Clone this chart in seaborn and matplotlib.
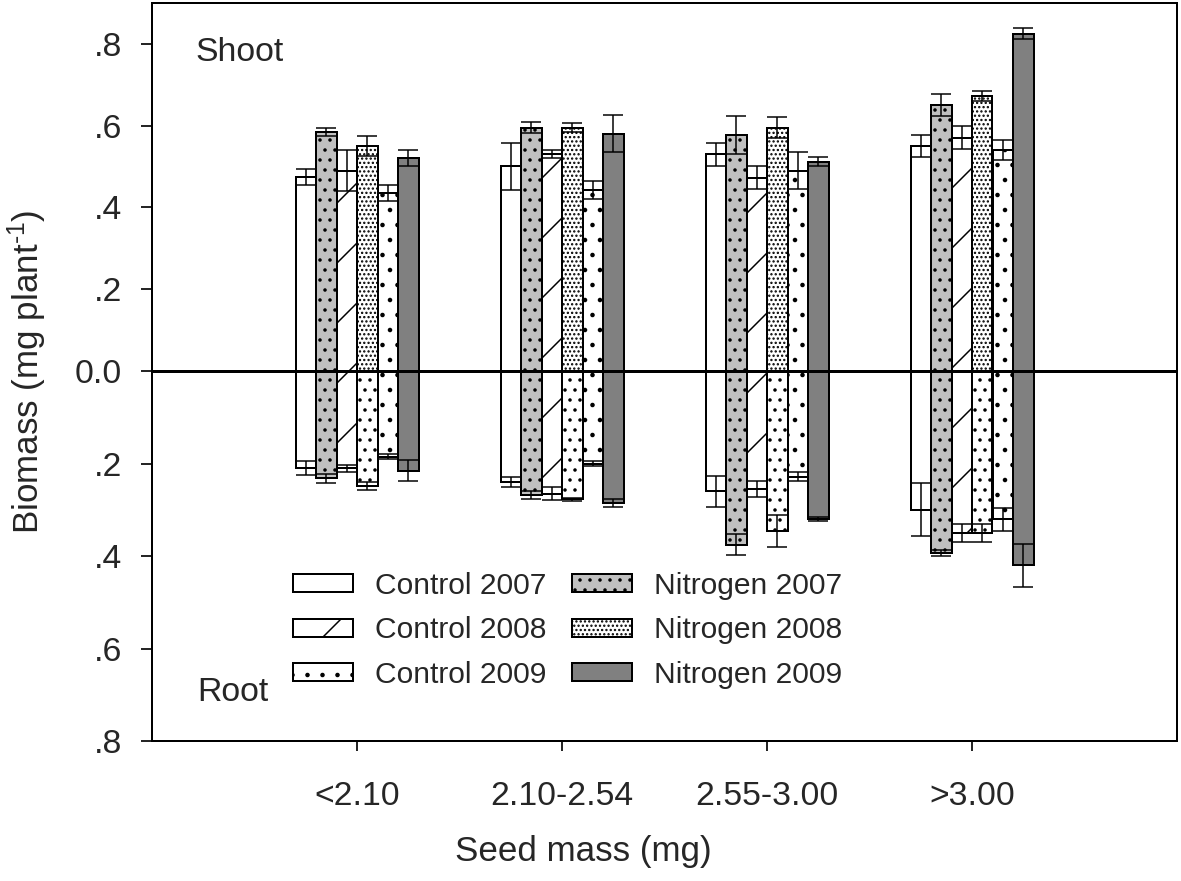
import numpy as np
import pandas as pd
import matplotlib
matplotlib.use('Agg')
import matplotlib.pyplot as plt
import seaborn as sns

# Seed mass classes and treatment-year series
groups = ['<2.10', '2.10-2.54', '2.55-3.00', '>3.00']
series = ['Control 2007', 'Nitrogen 2007', 'Control 2008',
          'Nitrogen 2008', 'Control 2009', 'Nitrogen 2009']

# rows follow `series`, columns follow `groups`
shoot_mean = [[0.475, 0.500, 0.530, 0.550],
              [0.585, 0.595, 0.577, 0.650],
              [0.490, 0.530, 0.472, 0.570],
              [0.550, 0.595, 0.595, 0.672],
              [0.435, 0.443, 0.490, 0.540],
              [0.520, 0.580, 0.512, 0.824]]
shoot_se = [[0.020, 0.058, 0.028, 0.028],
            [0.010, 0.013, 0.047, 0.026],
            [0.050, 0.010, 0.028, 0.028],
            [0.025, 0.012, 0.026, 0.013],
            [0.020, 0.022, 0.046, 0.024],
            [0.020, 0.045, 0.012, 0.013]]
root_mean = [[0.210, 0.240, 0.260, 0.300],
             [0.232, 0.268, 0.375, 0.393],
             [0.210, 0.265, 0.255, 0.350],
             [0.248, 0.277, 0.346, 0.350],
             [0.185, 0.200, 0.228, 0.320],
             [0.215, 0.285, 0.320, 0.420]]
root_se = [[0.015, 0.010, 0.033, 0.057],
           [0.010, 0.008, 0.022, 0.007],
           [0.008, 0.014, 0.017, 0.020],
           [0.008, 0.003, 0.035, 0.020],
           [0.006, 0.005, 0.010, 0.025],
           [0.022, 0.008, 0.005, 0.047]]

colors = {'Control 2007': 'white', 'Nitrogen 2007': '#c0c0c0',
          'Control 2008': 'white', 'Nitrogen 2008': 'white',
          'Control 2009': 'white', 'Nitrogen 2009': '#808080'}
shoot_hatch = ['', '...', '/', '.......', '..', '']
root_hatch = ['', '...', '/', '...', '..', '']


def long_table(means, ses, sign):
    rows = []
    for s, m_row, e_row in zip(series, means, ses):
        for g, m, e in zip(groups, m_row, e_row):
            rows.append({'group': g, 'series': s, 'value': sign * m, 'se': e})
    return pd.DataFrame(rows)


shoot = long_table(shoot_mean, shoot_se, 1)
root = long_table(root_mean, root_se, -1)

sns.set_style('ticks')
plt.rcParams['font.family'] = ['Liberation Sans', 'DejaVu Sans']
plt.rcParams['mathtext.fontset'] = 'custom'
plt.rcParams['mathtext.rm'] = 'Liberation Sans'
plt.rcParams['mathtext.default'] = 'regular'
plt.rcParams['hatch.linewidth'] = 0.6
plt.rcParams['axes.linewidth'] = 0.8

fig = plt.figure(figsize=(1181 / 180, 881 / 180), dpi=180)
ax = fig.add_axes([152 / 1181, 1 - 741 / 881, 1025 / 1181, 738.3 / 881])

# root half of the axis is drawn on a slightly stretched scale
k = 463 / 410
ax.set_yscale('function', functions=(lambda y: np.where(np.asarray(y) < 0, np.asarray(y) * k, y),
                                     lambda y: np.where(np.asarray(y) < 0, np.asarray(y) / k, y)))

for data in (shoot, root):
    sns.barplot(data=data, x='group', y='value', hue='series', order=groups,
                hue_order=series, palette=colors, saturation=1, width=0.6,
                gap=0, errorbar=None, edgecolor='black', linewidth=0.8,
                legend=False, ax=ax)

bars = list(ax.containers)
for i, cont in enumerate(bars):
    hatch = shoot_hatch[i % 6] if i < 6 else root_hatch[i % 6]
    for p in cont.patches:
        p.set_hatch(hatch)

# error bars at bar centres
for i, cont in enumerate(bars):
    data = shoot if i < 6 else root
    sub = data[data['series'] == series[i % 6]].set_index('group').loc[groups]
    xs = [p.get_x() + p.get_width() / 2 for p in cont.patches]
    ax.errorbar(xs, sub['value'], yerr=sub['se'], fmt='none', ecolor='black',
                elinewidth=0.6, capsize=4, capthick=0.6, zorder=5)

ax.axhline(0, color='black', lw=1.2, zorder=6)

ax.set_xlim(-1, 4)
ax.set_ylim(-0.8, 0.9)
yt = [-0.8, -0.6, -0.4, -0.2, 0, 0.2, 0.4, 0.6, 0.8]
ax.set_yticks(yt)
ax.set_yticklabels(['.8', '.6', '.4', '.2', '0.0', '.2', '.4', '.6', '.8'])
ax.tick_params(axis='y', direction='out', length=4.4, width=0.8, labelsize=13.5, pad=7.6)
ax.tick_params(axis='x', direction='out', length=4, width=0.8, labelsize=13.5, pad=12)
for sp in ax.spines.values():
    sp.set_visible(True)
    sp.set_linewidth(0.8)
    sp.set_color('black')

ax.set_xlabel('Seed mass (mg)', fontsize=14)
ax.set_ylabel('Biomass (mg plant$^{\\text{-}1}$)', fontsize=14)
ax.xaxis.set_label_coords((583 - 152) / 1025, -0.127)
ax.yaxis.set_label_coords(-0.1, 0.5)

ax.text(0.042, 0.933, 'Shoot', transform=ax.transAxes, fontsize=13.5, va='center', ha='left')
ax.text(0.044, 0.066, 'Root', transform=ax.transAxes, fontsize=13.5, va='center', ha='left')

order = [0, 2, 4, 1, 3, 5]
handles = [bars[j].patches[0] for j in order]
labels = [series[j] for j in order]
ax.legend(handles, labels, ncol=2, frameon=False, fontsize=12,
          loc='upper left', bbox_to_anchor=(0.1376, 0.229), borderpad=0,
          borderaxespad=0, handlelength=2.0, handleheight=0.55,
          handletextpad=0.74, columnspacing=0.84, labelspacing=0.55)

fig.savefig('out.png', dpi=180)
